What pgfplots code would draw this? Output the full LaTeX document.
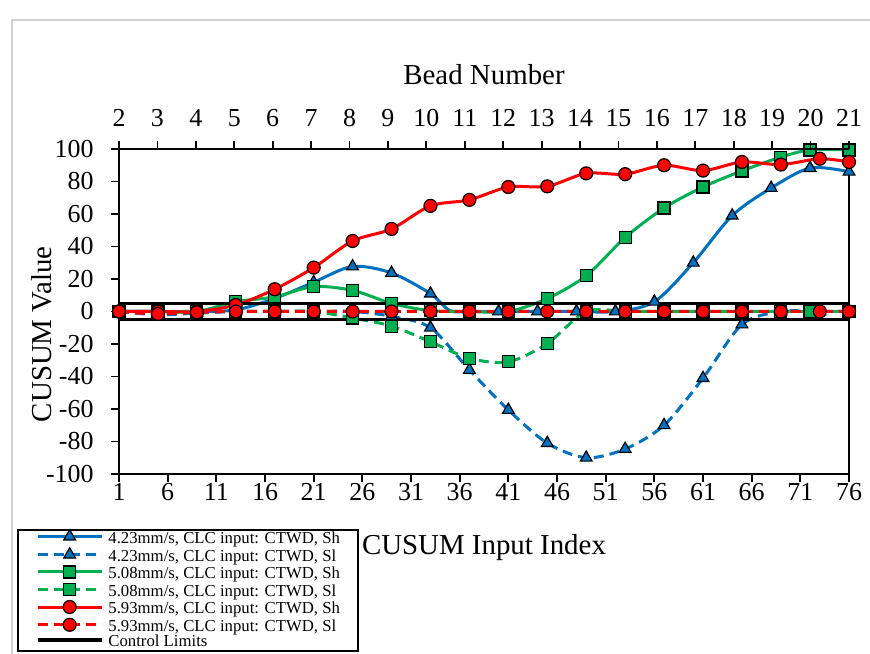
\documentclass[border=0pt]{standalone}
\usepackage{fontspec}
\setmainfont{Liberation Serif}
\usepackage{pgfplots}
\usepackage{pgfplotstable}
\pgfplotsset{compat=1.18}

\definecolor{xlblue}{HTML}{0070C0}
\definecolor{xlgreen}{HTML}{00B050}
\definecolor{xlred}{HTML}{FF0000}

% CUSUM statistics per travel speed; m = 1 where a marker is drawn
\pgfplotstableread{
x  y     m
1  0     1
5  0     1
9  0     1
13 1     1
17 8     1
21 18    1
25 27.7  1
29 23.7  1
33 11    1
35 0.5   0
37 0     0
40 0     1
44 0     1
48 0     1
52 0     1
56 6     1
60 30    1
64 59    1
68 76    1
72 88.3  1
76 86    1
}\blueSh
\pgfplotstableread{
x  y     m
1  0     1
5  -2    1
9  -1    1
13 0     1
17 0     1
21 0     1
25 0     1
29 -3    1
33 -10   1
37 -36   1
41 -60.6 1
45 -81   1
49 -90   1
53 -84.6 1
57 -70   1
61 -41   1
65 -8    1
69 0     1
73 0     1
76 0     1
}\blueSl
\pgfplotstableread{
x  y     m
1  0     1
5  0     1
9  0     1
13 6     1
17 9     1
21 15.3  1
25 13    1
29 5     1
33 0.5   1
37 0     1
41 0     1
45 8     1
49 22    1
53 45.5  1
57 63.7  1
61 76.6  1
65 86.5  1
69 95    1
72 99.4  1
76 99.4  1
}\greenSh
\pgfplotstableread{
x  y     m
1  0     1
5  0     1
9  0     1
13 0     1
17 0     1
21 0     1
25 -4    1
29 -9    1
33 -18.6 1
37 -28.8 1
41 -31   1
45 -19.7 1
49 0     1
53 0     1
57 0     1
61 0     1
65 0     1
69 0     1
72 0     1
76 0     1
}\greenSl
\pgfplotstableread{
x  y     m
1  0     1
5  0     1
9  0     1
13 4     1
17 13.7  1
21 27    1
25 43.4  1
29 50.8  1
33 65    1
37 68.7  1
41 76.6  1
45 77    1
49 85    1
53 84.5  1
57 90    1
61 86.7  1
65 92    1
69 90.4  1
73 94    1
76 92    1
}\redSh
\pgfplotstableread{
x  y     m
1  0     1
5  -1.5  1
9  -0.5  1
13 0     1
17 0     1
21 0     1
25 0     1
29 0     1
33 0     1
37 0     1
41 0     1
45 0     1
49 0     1
53 0     1
57 0     1
61 0     1
65 0     1
69 0     1
73 0     1
76 0     1
}\redSl

\pgfplotsset{
  serline/.style={line width=3bp, smooth},
  solidser/.style={serline},
  dashser/.style={serline, dash pattern=on 10bp off 6bp},
  tri/.style={mark=triangle*, mark size=6.8bp, mark options={solid, fill=xlblue, draw=black, line width=1.2bp}},
  sqr/.style={mark=square*, mark size=6bp, mark options={solid, fill=xlgreen, draw=black, line width=1.2bp}},
  circ/.style={mark=*, mark size=6.5bp, mark options={solid, fill=xlred, draw=black, line width=1.2bp}},
  marked/.style={only marks, restrict expr to domain={\thisrow{m}}{0.5:1.5}},
  chartframe/.style={
    at={(119bp,180bp)}, anchor=south west,
    scale only axis, width=730bp, height=325bp,
    tick align=outside, major tick length=8bp,
    tick style={black, line width=1.8bp},
    axis line style={black, line width=2.2bp},
    /pgf/number format/assume math mode=true,
    tick label style={font=\fontsize{26}{30}\selectfont},
    label style={font=\fontsize{29}{33}\selectfont},
  },
}

\begin{document}
\begin{tikzpicture}[x=1bp,y=1bp]
\useasboundingbox (0,0) rectangle (870,654);
\draw[black!18, line width=1.5bp] (12,-2) -- (12,634) -- (872,634);

\begin{axis}[
  chartframe,
  xmin=1, xmax=76, ymin=-100, ymax=100,
  xtick={1,6,...,76}, ytick={-100,-80,...,100},
  xtick pos=lower, ytick pos=left,
  xticklabel style={yshift=2bp},
  yticklabel style={xshift=-14bp},
  xlabel={CUSUM Input Index},
  ylabel={CUSUM Value},
  xlabel style={at={(axis description cs:0.5,-0.2277)}, anchor=center},
  ylabel style={at={(axis description cs:-0.1055,0.43)}, anchor=center},
  clip=false,
  legend style={
    at={(axis description cs:-0.1397,-0.5477)}, anchor=south west,
    draw=black, line width=1.8bp, fill=white,
    font=\fontsize{16.8}{17}\selectfont,
    inner xsep=18bp, inner ysep=0bp,
    nodes={inner sep=0pt, outer sep=0pt, text height=10.5bp, text depth=4.5bp},
    /tikz/column sep=5bp,
  },
  legend cell align=left,
  legend image code/.code={
    \draw[#1, mark repeat=2, mark phase=2] plot coordinates {(0bp,3.8bp) (32bp,3.8bp) (64bp,3.8bp)};
  },
]
% legend samples
\addlegendimage{xlblue, solidser, tri}
\addlegendentry{4.23mm/s, CLC input: CTWD, Sh}
\addlegendimage{xlblue, dashser, tri}
\addlegendentry{4.23mm/s, CLC input: CTWD, Sl}
\addlegendimage{xlgreen, solidser, sqr}
\addlegendentry{5.08mm/s, CLC input: CTWD, Sh}
\addlegendimage{xlgreen, dashser, sqr}
\addlegendentry{5.08mm/s, CLC input: CTWD, Sl}
\addlegendimage{xlred, solidser, circ}
\addlegendentry{5.93mm/s, CLC input: CTWD, Sh}
\addlegendimage{xlred, dashser, circ}
\addlegendentry{5.93mm/s, CLC input: CTWD, Sl}
\addlegendimage{black, line width=3.5bp}
\addlegendentry{Control Limits}

% 4.23 mm/s
\addplot[xlblue, solidser, forget plot] table[x=x,y=y] {\blueSh};
\addplot[tri, marked, forget plot] table[x=x,y=y] {\blueSh};
\addplot[xlblue, dashser, forget plot] table[x=x,y=y] {\blueSl};
\addplot[tri, marked, forget plot] table[x=x,y=y] {\blueSl};
% 5.08 mm/s
\addplot[xlgreen, solidser, forget plot] table[x=x,y=y] {\greenSh};
\addplot[sqr, marked, forget plot] table[x=x,y=y] {\greenSh};
\addplot[xlgreen, dashser, forget plot] table[x=x,y=y] {\greenSl};
\addplot[sqr, marked, forget plot] table[x=x,y=y] {\greenSl};
% 5.93 mm/s
\addplot[xlred, solidser, forget plot] table[x=x,y=y] {\redSh};
\addplot[circ, marked, forget plot] table[x=x,y=y] {\redSh};
\addplot[xlred, dashser, forget plot] table[x=x,y=y] {\redSl};
\addplot[circ, marked, forget plot] table[x=x,y=y] {\redSl};
% control limits
\addplot[black, line width=3.5bp, forget plot] coordinates {(1,5) (76,5)};
\addplot[black, line width=3.5bp, forget plot] coordinates {(1,-5) (76,-5)};
\end{axis}

% bead number scale
\begin{axis}[
  chartframe,
  xmin=2, xmax=21, ymin=0, ymax=1,
  axis x line*=top, axis y line=none,
  xtick={2,...,21},
  xticklabel style={yshift=11bp},
  xlabel={Bead Number},
  xlabel style={at={(axis description cs:0.5,1.2277)}, anchor=center},
]
\addplot[draw=none] coordinates {(2,0.5)};
\end{axis}
\end{tikzpicture}
\end{document}
